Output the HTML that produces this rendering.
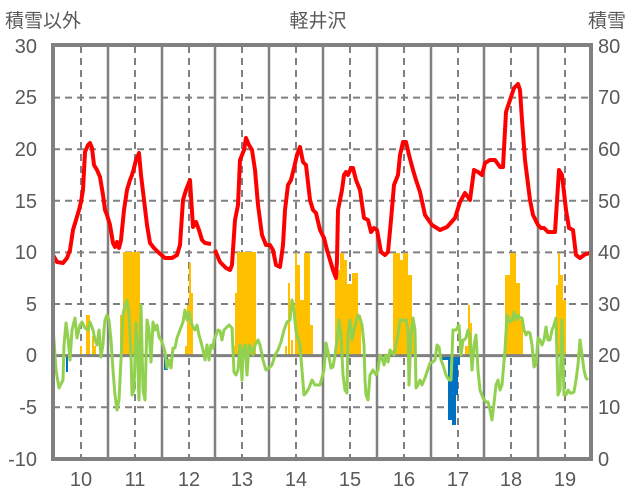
<!DOCTYPE html><html><head><style>body{margin:0;background:#fff}svg{display:block}text{font-family:"Liberation Sans","Noto Sans CJK JP",sans-serif;fill:#595959}</style></head><body>
<svg width="636" height="501" xmlns="http://www.w3.org/2000/svg">
<rect width="636" height="501" fill="#fff"/>
<g stroke="#808080" stroke-width="2" stroke-dasharray="7,5">
<line x1="53" y1="97.6" x2="591" y2="97.6"/><line x1="53" y1="149.2" x2="591" y2="149.2"/><line x1="53" y1="200.8" x2="591" y2="200.8"/><line x1="53" y1="252.4" x2="591" y2="252.4"/><line x1="53" y1="304" x2="591" y2="304"/><line x1="53" y1="407.2" x2="591" y2="407.2"/>
<line x1="81" y1="46" x2="81" y2="459"/><line x1="135" y1="46" x2="135" y2="459"/><line x1="189" y1="46" x2="189" y2="459"/><line x1="242" y1="46" x2="242" y2="459"/><line x1="296" y1="46" x2="296" y2="459"/><line x1="350" y1="46" x2="350" y2="459"/><line x1="404" y1="46" x2="404" y2="459"/><line x1="458" y1="46" x2="458" y2="459"/><line x1="511" y1="46" x2="511" y2="459"/><line x1="565" y1="46" x2="565" y2="459"/>
</g>
<g stroke="#808080" stroke-width="2.5">
<line x1="108" y1="46" x2="108" y2="459"/><line x1="162" y1="46" x2="162" y2="459"/><line x1="215" y1="46" x2="215" y2="459"/><line x1="269" y1="46" x2="269" y2="459"/><line x1="323" y1="46" x2="323" y2="459"/><line x1="377" y1="46" x2="377" y2="459"/><line x1="431" y1="46" x2="431" y2="459"/><line x1="484" y1="46" x2="484" y2="459"/><line x1="538" y1="46" x2="538" y2="459"/>
</g>
<g fill="#FFC000">
<rect x="80" y="346" width="2" height="9"/><rect x="86" y="315" width="4" height="40"/><rect x="92" y="336" width="2" height="19"/><rect x="94" y="346" width="2" height="9"/>
<rect x="120" y="315" width="3" height="40"/><rect x="123" y="252" width="17" height="103"/><rect x="140" y="346" width="2" height="9"/>
<rect x="185" y="346" width="2" height="9"/><rect x="187" y="305" width="2" height="50"/><rect x="189" y="263" width="2" height="92"/><rect x="191" y="293" width="2" height="62"/>
<rect x="233" y="346" width="2" height="9"/><rect x="235" y="293" width="2" height="62"/><rect x="237" y="252" width="19" height="103"/>
<rect x="285" y="346" width="2" height="9"/><rect x="288" y="283" width="2" height="72"/><rect x="291" y="340" width="2" height="15"/><rect x="295" y="253" width="2" height="102"/><rect x="297" y="265" width="3" height="90"/><rect x="300" y="300" width="4" height="55"/><rect x="304" y="253" width="6" height="102"/><rect x="310" y="325" width="3" height="30"/>
<rect x="335" y="253" width="3" height="102"/><rect x="338" y="270" width="2" height="85"/><rect x="340" y="253" width="4" height="102"/><rect x="344" y="260" width="3" height="95"/><rect x="347" y="284" width="5" height="71"/><rect x="352" y="273" width="6" height="82"/><rect x="358" y="315" width="3" height="40"/>
<rect x="393" y="253" width="7" height="102"/><rect x="400" y="260" width="3" height="95"/><rect x="403" y="253" width="5" height="102"/><rect x="408" y="275" width="4" height="80"/><rect x="412" y="320" width="3" height="35"/>
<rect x="465" y="346" width="3" height="9"/><rect x="468" y="305" width="2" height="50"/><rect x="470" y="323" width="2" height="32"/>
<rect x="505" y="275" width="5" height="80"/><rect x="510" y="253" width="6" height="102"/><rect x="516" y="283" width="4" height="72"/><rect x="520" y="320" width="3" height="35"/>
<rect x="556" y="285" width="2" height="70"/><rect x="558" y="253" width="2" height="102"/><rect x="560" y="275" width="3" height="80"/><rect x="563" y="300" width="3" height="55"/>
</g>
<g fill="#0070C0">
<rect x="66" y="355" width="2" height="17"/><rect x="164" y="355" width="4" height="15"/>
<rect x="440" y="355" width="8" height="5"/><rect x="448" y="355" width="4" height="65"/><rect x="452" y="355" width="4" height="70"/><rect x="456" y="355" width="2" height="40"/><rect x="458" y="355" width="2" height="10"/>
</g>
<line x1="53" y1="355.6" x2="591" y2="355.6" stroke="#808080" stroke-width="3"/>
<polyline fill="none" stroke="#92D050" stroke-width="3" stroke-linejoin="round" points="53,326 56,370 59,388 63,380 64,345 66,323 68,338 70,360 72,330 75,318 77,338 80,325 82,322 85,328 88,330 90,322 93,330 95,340 97,345 99,330 101,357 103,345 104,330 105,320 107,315 109,320 111,340 113,370 115,395 117,410 119,400 121,360 123,315 125,305 127,300 129,315 131,355 132,395 134,390 136,323 137,340 139,400 141,305 143,390 145,400 147,320 149,330 151,362 153,322 155,330 157,325 159,337 161,340 163,345 165,352 167,368 169,360 171,368 173,348 175,348 177,338 180,330 183,322 185,310 187,320 189,312 191,322 193,327 195,330 197,325 199,335 201,342 203,350 205,360 207,345 209,360 211,345 213,348 214,340 216,335 218,330 220,331 222,340 224,330 226,328 229,325 232,328 234,372 236,375 238,370 240,345 242,380 243,350 245,345 247,375 249,345 251,348 253,355 255,345 258,340 260,345 263,360 266,370 269,368 272,365 275,355 278,350 281,342 284,330 287,322 290,320 292,300 294,310 296,332 300,345 304,395 306,393 309,388 312,380 315,385 320,385 324,370 326,343 328,352 331,368 333,367 335,355 337,340 339,320 341,335 343,375 345,390 347,393 348,335 350,320 352,340 354,330 356,322 358,315 360,318 362,325 364,345 365,380 366,395 368,400 370,375 373,370 376,375 378,370 380,355 382,358 384,365 386,355 388,362 390,350 392,352 394,355 396,345 398,335 400,320 402,320 404,320 406,320 408,330 409,385 411,335 413,318 415,330 416,388 418,385 420,380 422,385 425,378 427,372 430,363 433,362 435,360 437,345 439,347 441,360 443,365 446,375 449,380 451,380 453,330 456,330 459,325 461,355 463,340 464,340 466,338 468,330 470,335 472,370 474,345 476,335 478,370 480,390 483,398 486,402 488,402 490,410 492,420 494,403 496,385 498,380 500,390 502,385 505,350 507,315 510,322 512,320 514,312 516,320 518,315 520,318 522,318 524,330 526,335 528,332 530,333 532,345 534,367 536,365 538,338 540,340 542,345 544,340 546,327 548,340 550,340 552,330 554,325 556,318 558,395 560,390 562,320 564,395 566,395 568,390 570,393 572,393 574,392 576,380 578,365 580,340 582,355 584,370 586,378 588,380"/>
<g fill="none" stroke="#FF0000" stroke-width="4" stroke-linejoin="round">
<polyline points="53,255 57,262 63,263 67,258 70,250 73,230 76,220 79,210 81,202 83,190 85,152 88,145 90,143 92,148 94,165 97,170 100,177 103,195 105,210 107,215 110,225 113,243 115,247 117,242 119,248 121,240 124,210 127,190 130,180 132,175 134,168 136,160 139,153 141,175 144,200 147,225 150,243 154,248 158,252 165,258 172,258 177,255 180,245 183,200 186,190 190,180 193,227 196,222 199,230 202,240 205,243 211,244"/>
<polyline points="215,250 220,262 226,268 230,270 232,265 235,220 238,205 240,160 244,150 246,138 249,145 252,150 255,170 258,205 262,235 266,245 270,245 273,250 276,265 280,267 283,245 285,210 288,185 291,180 294,168 297,155 300,147 303,162 306,165 310,200 313,210 316,213 320,230 324,238 327,250 330,260 333,270 336,278 337,260 338,210 342,190 344,175 346,172 348,175 351,168 353,168 356,180 360,190 364,218 368,220 371,232 374,228 377,230 381,252 385,255 388,252 391,220 394,185 398,175 400,155 403,142 406,142 409,155 413,170 416,180 420,192 425,215 432,225 440,230 447,227 455,218 460,202 465,193 470,200 474,170 478,172 482,175 485,163 490,160 495,160 500,167 503,167 506,112 510,100 514,88 518,84 520,90 522,120 525,160 530,200 533,215 538,225 541,228 544,228 548,232 552,232 555,232 559,170 562,175 566,210 569,228 573,230 576,255 580,258 584,255 586,254 590,253"/>
</g>
<rect x="53" y="45" width="538" height="414" fill="none" stroke="#808080" stroke-width="4"/>
<g font-size="20" text-anchor="end">
<text x="37" y="53">30</text><text x="37" y="104">25</text><text x="37" y="156">20</text><text x="37" y="208">15</text><text x="37" y="259">10</text><text x="37" y="311">5</text><text x="37" y="362">0</text><text x="37" y="414">-5</text><text x="37" y="466">-10</text>
</g>
<g font-size="20" text-anchor="start">
<text x="598" y="53">80</text><text x="598" y="156">60</text><text x="598" y="259">40</text><text x="598" y="362">20</text><text x="598" y="466">0</text>
</g>
<g font-size="20" text-anchor="start">
<text x="598" y="104">70</text><text x="598" y="208">50</text><text x="598" y="311">30</text><text x="598" y="414">10</text>
</g>
<g font-size="20" text-anchor="middle">
<text x="81" y="486">10</text><text x="135" y="486">11</text><text x="189" y="486">12</text><text x="242" y="486">13</text><text x="296" y="486">14</text><text x="350" y="486">15</text><text x="404" y="486">16</text><text x="458" y="486">17</text><text x="511" y="486">18</text><text x="565" y="486">19</text>
</g>
<text x="5" y="27" font-size="19">積雪以外</text>
<text x="318" y="27" font-size="19" text-anchor="middle">軽井沢</text>
<text x="588" y="27" font-size="19">積雪</text>
</svg></body></html>
